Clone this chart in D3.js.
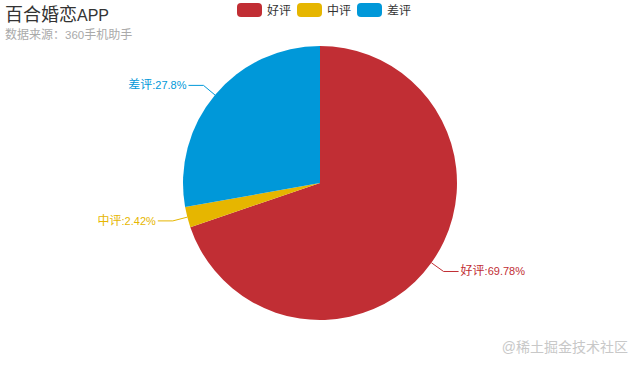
<!DOCTYPE html>
<html><head><meta charset="utf-8">
<script src="https://cdn.jsdelivr.net/npm/d3@7"></script>
<style>body{margin:0;background:#fff;}svg{display:block;font-family:"Liberation Sans","Noto Sans CJK SC",sans-serif;}</style>
</head><body>
<svg id="c" width="640" height="366"></svg>
<script>
const categories = ["好评", "中评", "差评"];
const values = [69.78, 2.42, 27.8];
const colors = ["#c12e34", "#e6b600", "#0098d9"];
const titleText = "百合婚恋APP";
const subtitleText = "数据来源：360手机助手";
const watermark = "@稀土掘金技术社区";

const svg = d3.select("#c");
const cx = 320, cy = 183, R = 137;
const data = categories.map((c, i) => ({name: c, value: values[i], color: colors[i]}));

// split text into CJK / latin runs so latin glyphs can be slightly narrower
function runs(sel, str, latinSize) {
  const parts = str.match(/[\u3000-\u9fff\uff00-\uffef]+|[^\u3000-\u9fff\uff00-\uffef]+/g);
  parts.forEach(p => {
    const t = sel.append("tspan").text(p);
    if (!/[\u3000-\u9fff\uff00-\uffef]/.test(p)) t.attr("font-size", latinSize);
  });
}

const title = svg.append("text").attr("x", 5).attr("y", 21).attr("font-size", 18).attr("fill", "#333");
runs(title, titleText, 16);
const sub = svg.append("text").attr("x", 5).attr("y", 39).attr("font-size", 12).attr("fill", "#aaa");
runs(sub, subtitleText, 11.5);

// legend
const legendX = [237, 297, 357];
const lg = svg.append("g");
data.forEach((d, i) => {
  lg.append("rect").attr("x", legendX[i]).attr("y", 3).attr("width", 25).attr("height", 14).attr("rx", 4).attr("fill", d.color);
  lg.append("text").attr("x", legendX[i] + 30).attr("y", 15).attr("font-size", 12).attr("fill", "#333").text(d.name);
});

const pie = d3.pie().sort(null).value(d => d.value);
const arcs = pie(data);
const arc = d3.arc().innerRadius(0).outerRadius(R);
const g = svg.append("g").attr("transform", `translate(${cx},${cy})`);
g.selectAll("path").data(arcs).join("path").attr("d", arc).attr("fill", d => d.data.color);

arcs.forEach(a => {
  const m = (a.startAngle + a.endAngle) / 2;
  const s = Math.sin(m), c = -Math.cos(m);
  const p1 = [R * s, R * c], p2 = [(R + 15) * s, (R + 15) * c];
  const dir = s >= 0 ? 1 : -1;
  const p3 = [p2[0] + dir * 15, p2[1]];
  g.append("polyline").attr("points", [p1, p2, p3].map(p => p.join(",")).join(" "))
    .attr("fill", "none").attr("stroke", a.data.color).attr("stroke-width", 1);
  const t = g.append("text").attr("x", p3[0] + dir * 2).attr("y", p3[1] + 4)
    .attr("text-anchor", dir > 0 ? "start" : "end").attr("font-size", 12).attr("fill", a.data.color);
  runs(t, a.data.name + ":" + a.data.value + "%", 11);
});

svg.append("text").attr("x", 628).attr("y", 352).attr("text-anchor", "end").attr("font-size", 14).attr("fill", "#c8c8c8").text(watermark);
</script>
</body></html>
